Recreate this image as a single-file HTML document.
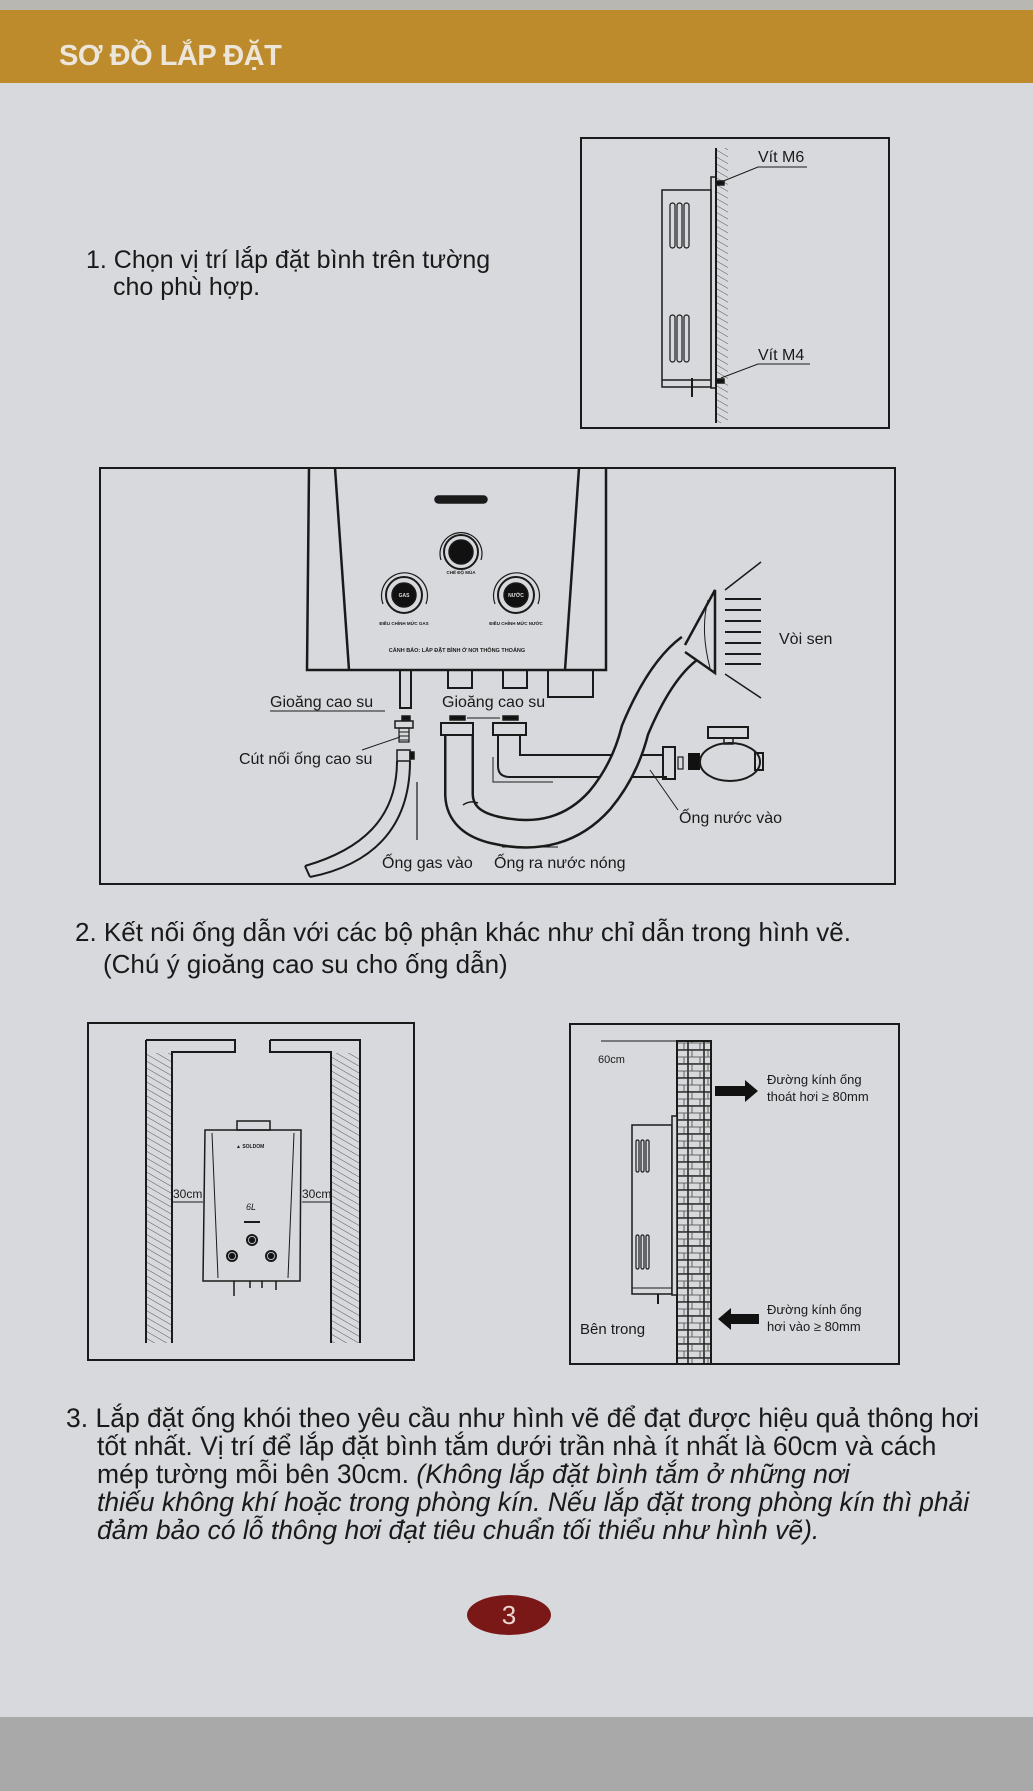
<!DOCTYPE html>
<html><head><meta charset="utf-8">
<style>
html,body{margin:0;padding:0}
body{width:1033px;height:1791px;position:relative;background:#d7d9dc;overflow:hidden;font-family:"Liberation Sans",sans-serif;color:#1a1a1a}
.top{position:absolute;left:0;top:0;width:1033px;height:10px;background:#b9b7b2}
.hdr{position:absolute;left:0;top:10px;width:1033px;height:73px;background:#bd8a2c}
.hdr span{position:absolute;left:59px;top:30px;font-size:29px;font-weight:bold;color:#ece6da;letter-spacing:-0.5px}
.bot{position:absolute;left:0;top:1717px;width:1033px;height:74px;background:#a9a9aa}
.t{position:absolute;white-space:nowrap;font-size:25px;line-height:28px}
svg{position:absolute;left:0;top:0}
.oval{position:absolute;left:467px;top:1595px;width:84px;height:40px;border-radius:50%;background:#7a1818;color:#e8d8d0;font-size:26px;text-align:center;line-height:40px}
</style></head><body>
<div class="top"></div>
<div class="hdr"><span>SƠ ĐỒ LẮP ĐẶT</span></div>
<div class="bot"></div>

<div class="t" style="left:86px;top:246px">1. Chọn vị trí lắp đặt bình trên tường</div>
<div class="t" style="left:113px;top:273px">cho phù hợp.</div>

<div class="t" style="left:75px;top:918px;font-size:26px">2. Kết nối ống dẫn với các bộ phận khác như chỉ dẫn trong hình vẽ.</div>
<div class="t" style="left:103px;top:950px;font-size:26px">(Chú ý gioăng cao su cho ống dẫn)</div>

<div class="t" style="left:66px;top:1404px;font-size:26.5px">3. Lắp đặt ống khói theo yêu cầu như hình vẽ để đạt được hiệu quả thông hơi</div>
<div class="t" style="left:97px;top:1432px;font-size:26.5px">tốt nhất. Vị trí để lắp đặt bình tắm dưới trần nhà ít nhất là 60cm và cách</div>
<div class="t" style="left:97px;top:1460px;font-size:26.5px">mép tường mỗi bên 30cm. <i>(Không lắp đặt bình tắm ở những nơi</i></div>
<div class="t" style="left:97px;top:1488px;font-size:26.5px"><i>thiếu không khí hoặc trong phòng kín. Nếu lắp đặt trong phòng kín thì phải</i></div>
<div class="t" style="left:97px;top:1516px;font-size:26.5px"><i>đảm bảo có lỗ thông hơi đạt tiêu chuẩn tối thiểu như hình vẽ).</i></div>

<div class="oval">3</div>

<svg width="1033" height="1791" viewBox="0 0 1033 1791" fill="none" stroke="#1a1a1a" stroke-width="1.5" font-family="Liberation Sans, sans-serif">
<defs>
<pattern id="h" width="6" height="6" patternUnits="userSpaceOnUse" patternTransform="rotate(-60)">
<line x1="0" y1="0" x2="0" y2="6" stroke="#333" stroke-width="0.8"/></pattern>
<pattern id="br" width="16" height="14" patternUnits="userSpaceOnUse">
<rect width="16" height="14" fill="#d7d9dc"/>
<path d="M0 0H16M0 7H16M4 0V7M12 7V14" stroke="#444" stroke-width="0.8" fill="none"/></pattern>
</defs>

<!-- Box 1 -->
<rect x="581" y="138" width="308" height="290" stroke-width="2"/>
<rect x="716" y="148" width="12" height="275" fill="url(#h)" stroke="none"/>
<line x1="716" y1="148" x2="716" y2="423" stroke-width="2"/>
<rect x="662" y="190" width="49" height="197"/>
<line x1="662" y1="380" x2="711" y2="380"/>
<rect x="711" y="177" width="5" height="211"/>
<g stroke-width="1.2">
<rect x="670" y="203" width="5" height="45" rx="2.5"/><rect x="677" y="203" width="5" height="45" rx="2.5"/><rect x="684" y="203" width="5" height="45" rx="2.5"/>
<rect x="670" y="315" width="5" height="47" rx="2.5"/><rect x="677" y="315" width="5" height="47" rx="2.5"/><rect x="684" y="315" width="5" height="47" rx="2.5"/>
</g>
<line x1="692" y1="378" x2="692" y2="397" stroke-width="2"/>
<rect x="716" y="181" width="8" height="4" fill="#111"/>
<rect x="716" y="379" width="8" height="4" fill="#111"/>
<path d="M721 182L758 167H807M721 378L758 364H810" stroke-width="1"/>
<g fill="#1a1a1a" stroke="none" font-size="16"><text x="758" y="162">Vít M6</text><text x="758" y="360">Vít M4</text></g>

<!-- Box 2 -->
<rect x="100" y="468" width="795" height="416" stroke-width="2"/>
<path d="M309 468L307 670H606V468" stroke-width="2.5"/>
<path d="M335 468L349 670M579 468L565 670" stroke-width="2.5"/>
<rect x="435" y="496" width="52" height="7" rx="3.5" fill="#1a1a1a"/>
<g>
<circle cx="461" cy="552" r="17" stroke-width="2"/><circle cx="461" cy="552" r="12" fill="#111"/>
<path d="M441 560A21 21 0 1 1 481 560" stroke-width="1.2"/>
<circle cx="404" cy="595" r="18" stroke-width="2"/><circle cx="404" cy="595" r="12" fill="#111"/>
<path d="M383 604A23 23 0 1 1 426 604" stroke-width="1.2"/>
<circle cx="516" cy="595" r="18" stroke-width="2"/><circle cx="516" cy="595" r="12" fill="#111"/>
<path d="M495 604A23 23 0 1 1 538 604" stroke-width="1.2"/>
</g>
<g fill="#1a1a1a" stroke="none" font-size="4.5" text-anchor="middle" font-weight="bold">
<text x="461" y="574">CHẾ ĐỘ MÙA</text>
<text x="404" y="625">ĐIỀU CHỈNH MỨC GAS</text>
<text x="516" y="625">ĐIỀU CHỈNH MỨC NƯỚC</text>
<text x="404" y="597" fill="#ddd" font-size="5">GAS</text>
<text x="516" y="597" fill="#ddd" font-size="5">NƯỚC</text>
<text x="457" y="652" font-size="5.5">CẢNH BÁO: LẮP ĐẶT BÌNH Ở NƠI THÔNG THOÁNG</text>
</g>
<rect x="400" y="670" width="11" height="38" stroke-width="2"/>
<rect x="448" y="670" width="24" height="18" stroke-width="2"/>
<rect x="503" y="670" width="24" height="18" stroke-width="2"/>
<rect x="548" y="670" width="45" height="27" stroke-width="2"/>
<rect x="402" y="716" width="8" height="4" fill="#111"/>
<rect x="450" y="716" width="15" height="4" fill="#111"/>
<rect x="503" y="716" width="15" height="4" fill="#111"/>
<line x1="467" y1="718" x2="500" y2="718" stroke-width="1"/>
<rect x="395" y="721" width="18" height="7" stroke-width="1.5"/>
<rect x="399" y="728" width="10" height="14" stroke-width="1.2"/>
<path d="M399 732H409M399 736H409M399 740H409" stroke-width="1"/>
<rect x="397" y="750" width="13" height="11" stroke-width="1.5"/>
<rect x="410" y="752" width="4" height="7" fill="#111"/>
<path d="M362 750L400 737" stroke-width="1"/>
<path d="M397 761C397 820 360 850 305 866M410 761C410 830 370 865 310 877" stroke-width="2"/>
<path d="M305 866L310 877" stroke-width="2"/>
<line x1="417" y1="782" x2="417" y2="840" stroke-width="1.2"/>
<rect x="441" y="723" width="32" height="12" stroke-width="2"/>
<rect x="493" y="723" width="33" height="12" stroke-width="2"/>
<path d="M498 735V766Q498 777 510 777H667M520 735V755H663" stroke-width="2"/>
<path d="M493 757V782H553" stroke-width="1"/>
<rect x="663" y="747" width="12" height="32" stroke-width="2"/>
<rect x="678" y="757" width="5" height="12" stroke-width="1.2"/>
<rect x="688" y="753" width="12" height="17" fill="#111" stroke="none"/>
<ellipse cx="730" cy="762" rx="30" ry="19" stroke-width="2"/>
<rect x="755" y="753" width="8" height="17" stroke-width="2"/>
<rect x="724" y="738" width="9" height="6" stroke-width="1.5"/>
<rect x="708" y="727" width="40" height="11" stroke-width="2"/>
<path d="M650 770L678 810" stroke-width="1"/>
<path d="M459 735V795Q460 822 495 830Q560 845 600 800Q625 770 635 730Q660 670 690 648" stroke="#1a1a1a" stroke-width="30" stroke-linecap="butt"/>
<path d="M459 735V795Q460 822 495 830Q560 845 600 800Q625 770 635 730Q660 670 690 648" stroke="#d7d9dc" stroke-width="25" stroke-linecap="butt"/>
<rect x="441" y="723" width="32" height="12" stroke-width="2" fill="#d7d9dc"/>
<path d="M463 805Q470 800 478 803" stroke-width="1.5"/>
<line x1="502" y1="847" x2="558" y2="847" stroke-width="1"/>
<path d="M685 645L715 590V673L685 652" stroke-width="2.5" fill="#d7d9dc"/>
<path d="M708 600Q700 630 710 668" stroke-width="1"/>
<path d="M725 599H761M725 610H761M725 621H761M725 632H761M725 643H761M725 654H761M725 664H761" stroke-width="2"/>
<path d="M725 590L761 562M725 674L761 698" stroke-width="1.5"/>
<path d="M270 711H385" stroke-width="1"/>
<g fill="#1a1a1a" stroke="none" font-size="16">
<text x="270" y="707">Gioăng cao su</text>
<text x="442" y="707">Gioăng cao su</text>
<text x="239" y="764">Cút nối ống cao su</text>
<text x="779" y="644">Vòi sen</text>
<text x="679" y="823">Ống nước vào</text>
<text x="382" y="868">Ống gas vào</text>
<text x="494" y="868">Ống ra nước nóng</text>
</g>

<!-- Box 3 left -->
<rect x="88" y="1023" width="326" height="337" stroke-width="2"/>
<path d="M146 1040H235V1052H172V1343M146 1040V1343" stroke-width="2"/>
<rect x="147" y="1053" width="24" height="290" fill="url(#h)" stroke="none"/>
<path d="M270 1040H360V1343M270 1040V1052H331V1343" stroke-width="2"/>
<rect x="332" y="1053" width="27" height="290" fill="url(#h)" stroke="none"/>
<rect x="237" y="1121" width="33" height="9" stroke-width="1.5"/>
<path d="M205 1130H301L300 1281H203Z" stroke-width="1.5"/>
<path d="M212 1133L218 1278M294 1133L288 1278" stroke-width="1"/>
<line x1="244" y1="1222" x2="260" y2="1222" stroke-width="2"/>
<circle cx="252" cy="1240" r="5" stroke-width="2"/><circle cx="252" cy="1240" r="2.5" fill="#111"/>
<circle cx="232" cy="1256" r="5" stroke-width="2"/><circle cx="232" cy="1256" r="2.5" fill="#111"/>
<circle cx="271" cy="1256" r="5" stroke-width="2"/><circle cx="271" cy="1256" r="2.5" fill="#111"/>
<path d="M234 1281V1296M250 1281V1288M262 1281V1288M276 1281V1290" stroke-width="1.5"/>
<path d="M172 1202H203M302 1202H331" stroke-width="1"/>
<g fill="#1a1a1a" stroke="none" font-size="12">
<text x="173" y="1198">30cm</text><text x="302" y="1198">30cm</text>
<text x="236" y="1148" font-size="5" font-weight="bold">▲ SOLDOM</text>
<text x="246" y="1210" font-size="9" font-style="italic">6L</text>
</g>

<!-- Box 3 right -->
<rect x="570" y="1024" width="329" height="340" stroke-width="2"/>
<rect x="677" y="1041" width="34" height="323" fill="url(#br)" stroke-width="2"/>
<line x1="601" y1="1041" x2="677" y2="1041" stroke-width="1"/>
<rect x="632" y="1125" width="40" height="169" stroke-width="1.5"/>
<line x1="632" y1="1288" x2="672" y2="1288" stroke-width="1"/>
<rect x="672" y="1116" width="5" height="179" stroke-width="1.5" fill="#d7d9dc"/>
<g stroke-width="1.2">
<rect x="636" y="1140" width="3" height="32" rx="1.5"/><rect x="641" y="1140" width="3" height="32" rx="1.5"/><rect x="646" y="1140" width="3" height="32" rx="1.5"/>
<rect x="636" y="1235" width="3" height="34" rx="1.5"/><rect x="641" y="1235" width="3" height="34" rx="1.5"/><rect x="646" y="1235" width="3" height="34" rx="1.5"/>
</g>
<line x1="658" y1="1294" x2="658" y2="1304" stroke-width="2"/>
<path d="M715 1086H745V1080L758 1091L745 1102V1096H715Z" fill="#111" stroke="none"/>
<path d="M759 1314H731V1308L718 1319L731 1330V1324H759Z" fill="#111" stroke="none"/>
<g fill="#1a1a1a" stroke="none" font-size="13">
<text x="598" y="1063" font-size="11">60cm</text>
<text x="767" y="1084">Đường kính ống</text>
<text x="767" y="1101">thoát hơi ≥ 80mm</text>
<text x="767" y="1314">Đường kính ống</text>
<text x="767" y="1331">hơi vào ≥ 80mm</text>
<text x="580" y="1334" font-size="15">Bên trong</text>
</g>
</svg>
</body></html>
